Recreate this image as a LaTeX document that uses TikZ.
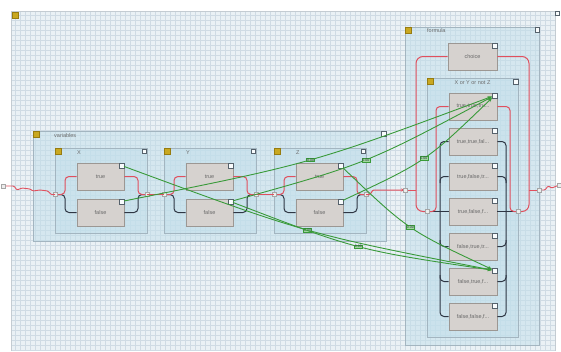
\documentclass[tikz,border=0pt]{standalone}
\usepackage{fontspec}
\setmainfont{Liberation Sans}
\usetikzlibrary{arrows.meta}
\definecolor{gridbg}{HTML}{EAF1F5}
\definecolor{gridln}{HTML}{CFDBE4}
\definecolor{gridedge}{HTML}{C4CCD2}
\definecolor{boxfill}{HTML}{C2DFEB}
\definecolor{boxline}{HTML}{A3B5C0}
\definecolor{nodefill}{HTML}{D6D2CF}
\definecolor{nodeline}{HTML}{9C9793}
\definecolor{txtgray}{HTML}{6A6A6A}
\definecolor{redc}{HTML}{E0505E}
\definecolor{darkc}{HTML}{2E3644}
\definecolor{greenc}{HTML}{399A39}
\definecolor{greenlab}{HTML}{9FD89F}
\definecolor{yel}{HTML}{C9A820}
\definecolor{yelline}{HTML}{977C10}
\definecolor{sqline}{HTML}{55616B}
\begin{document}
\begin{tikzpicture}[x=1pt,y=-1pt,
  cont/.style={draw=boxline,fill=boxfill,fill opacity=0.5,draw opacity=1,line width=0.6pt,inner sep=0,rectangle},
  vnode/.style={draw=nodeline,fill=nodefill,line width=0.7pt,minimum width=47pt,minimum height=27pt,inner sep=0,font=\fontsize{5.5}{6.5}\selectfont,text=txtgray},
  fnode/.style={vnode,minimum width=48pt},
  ysq/.style={draw=yelline,fill=yel,minimum size=6pt,inner sep=0,line width=0.4pt},
  gsq/.style={draw=sqline,fill=white!90!boxfill,minimum size=4.5pt,inner sep=0,line width=0.5pt},
  psq/.style={draw=gray!70,fill=gray!15,minimum width=4pt,minimum height=4pt,inner sep=0,line width=0.3pt},
  clab/.style={font=\fontsize{5.5}{6.5}\selectfont,text=txtgray,inner sep=0},
  redw/.style={draw=redc,line width=1pt,rounded corners=4pt},
  darkw/.style={draw=darkc,line width=1pt,rounded corners=4pt},
  grn/.style={draw=greenc,line width=0.9pt,-{Stealth[length=4.5pt,width=3.5pt]}},
  glab/.style={fill=greenlab,draw=greenc,line width=0.3pt,font=\fontsize{3.5}{4}\selectfont,text=darkc,inner sep=0.6pt}]
\useasboundingbox (0,0) rectangle (561,351);
\fill[white] (0,0) rectangle (561,351);
\fill[gridbg] (11,11) rectangle (555,351);
\foreach \i in {15,20,...,555} \draw[gridln,line width=0.3pt] (\i,11) -- (\i,351);
\foreach \j in {15,20,...,350} \draw[gridln,line width=0.3pt] (11,\j) -- (555,\j);
\draw[gridedge,line width=0.6pt] (11,351) -- (11,11) -- (555,11) -- (555,351);
\node[ysq] (canvy) at (15,15) {};
\node[gsq] (canvg) at (557,13) {};

% variables container
\node[cont,minimum width=353pt,minimum height=110pt] (vars) at (209.5,186) {};
\node[ysq,anchor=north west] (varsy) at (vars.north west) {};
\node[clab,anchor=west] (varsl) at (54,136) {variables};
\node[gsq] (varsg) at (383.5,133.5) {};

\foreach \b/\x/\lab in {x/55/X,y/164/Y,z/274/Z}{
  \node[cont,minimum width=92pt,minimum height=85pt] (\b box) at (\x+46,190.5) {};
  \node[ysq,anchor=north west] (\b y) at (\b box.north west) {};
  \node[clab,anchor=west] (\b lab) at (\x+22,153) {\lab};
  \node[gsq] (\b g) at (\x+89,151) {};
  \node[vnode] (\b t) at (\x+45.5,176.5) {true};
  \node[vnode] (\b f) at (\x+45.5,212.5) {false};
  \node[gsq] (\b tg) at (\x+66.5,165.5) {};
  \node[gsq] (\b fg) at (\x+66.5,201.5) {};
  \coordinate (\b in) at (\x,194.5);
  \coordinate (\b out) at (\x+92,194.5);
  \coordinate (\b l) at (\x+10,194.5);
  \coordinate (\b r) at (\x+83,194.5);
  \draw[darkw] (\b in) -- (\b l) |- (\b f.west);
  \draw[redw] (\b in) -- (\b l) |- (\b t.west);
  \draw[darkw] (\b f.east) -| (\b r) -- (\b out);
  \draw[redw] (\b t.east) -| (\b r) -- (\b out);
  \node[psq] (\b pin) at (\b in) {};
  \node[psq] (\b pout) at (\b out) {};
}

% formula container
\node[cont,minimum width=134pt,minimum height=318pt] (form) at (472,186) {};
\node[ysq,anchor=north west] (formy) at (form.north west) {};
\node[clab,anchor=west] (forml) at (427,31) {formula};
\node[gsq] (formg) at (537,29.5) {};
\node[fnode,minimum width=49pt] (choice) at (472.5,56.5) {choice};
\node[gsq] (choiceg) at (494.5,45.5) {};

\node[cont,minimum width=91pt,minimum height=259pt] (inner) at (472.5,207.5) {};
\node[ysq,anchor=north west] (innery) at (inner.north west) {};
\node[clab] (innerl) at (472.5,83) {X or Y or not Z};
\node[gsq] (innerg) at (515.5,81.5) {};

\foreach \k/\lab in {0/{true,true,tru...},1/{true,true,fal...},2/{true,false,tr...},3/{true,false,f...},4/{false,true,tr...},5/{false,true,f...},6/{false,false,f...}}{
  \node[fnode] (n\k) at (473,106.5+35*\k) {\lab};
  \node[gsq] (n\k g) at (494.5,95.5+35*\k) {};
}

\coordinate (fin) at (427,211.5);
\coordinate (fout) at (518,211.5);
\coordinate (fentry) at (405,190);
\coordinate (fexit) at (539,190);

% red outer loop in formula
\draw[redw,rounded corners=7pt] (fin) -- (416,211.5) -- (416,56.5) -- (choice.west);
\draw[redw,rounded corners=7pt] (choice.east) -- (529,56.5) -- (529,211.5) -- (fout);
\draw[redw] (fentry) -- (416,190);
\draw[redw] (529,190) -- (fexit);

% inner connectors
\draw[darkw] (n1.west) -- (440,141.5) -- (440,316.5) -- (n6.west);
\draw[darkw] (440,183) -- (440,176.5) -- (n2.west);
\draw[darkw] (440,240) -- (440,246.5) -- (n4.west);
\draw[darkw] (440,275) -- (440,281.5) -- (n5.west);
\draw[darkw] (fin) -- (n3.west);
\draw[darkw] (n1.east) -- (506,141.5) -- (506,316.5) -- (n6.east);
\draw[darkw] (506,183) -- (506,176.5) -- (n2.east);
\draw[darkw] (506,240) -- (506,246.5) -- (n4.east);
\draw[darkw] (506,275) -- (506,281.5) -- (n5.east);
\draw[darkw] (n3.east) -- (fout);
\draw[redw] (fin) -- (436,211.5) -- (436,106.5) -- (n0.west);
\draw[redw] (n0.east) -- (510,106.5) -- (510,211.5) -- (fout);
\node[psq] (finp) at (fin) {};
\node[psq] (foutp) at (fout) {};

% chain of red lines
\coordinate (lstart) at (3,186);
\coordinate (rend) at (559,185);
\draw[redw,rounded corners=1pt,line width=0.9pt] (lstart) -- (14,186) -- (17,190) -- (22,188) -- (30,189) -- (33,191) -- (40,190) -- (48,191) -- (51,194.5) -- (xin);
\draw[redw] (xout) -- (yin);
\draw[redw] (yout) -- (zin);
\draw[redw,rounded corners=1pt,-{Stealth[length=4pt,width=3pt]}] (zout) -- (370,194.5) -- (373,190) -- (fentry);
\draw[redw,rounded corners=1pt,line width=0.9pt] (fexit) -- (545,190) -- (548,186) -- (552,188) -- (rend);
\node[psq] (lsp) at (lstart) {};
\node[psq] (rsp) at (rend) {};
\node[psq] (fentp) at (fentry) {};
\node[psq] (fexp) at (fexit) {};

% green links
\draw[grn] (xfg) .. controls (311.5,163.5) .. (n0g) node[glab,pos=0.5] (l1) {0.00};
\draw[grn] (yfg) .. controls (367,163.5) .. (n0g) node[glab,pos=0.5] (l2) {0.00};
\draw[grn] (zfg) .. controls (426,161.5) .. (n0g) node[glab,pos=0.5] (l3) {0.00};
\draw[grn] (xtg) .. controls (307.5,234) .. (n5g) node[glab,pos=0.5] (l4) {0.00};
\draw[grn] (yfg) .. controls (357,250) .. (n5g) node[glab,pos=0.5] (l5) {0.00};
\draw[grn] (ztg) .. controls (408,230) .. (n5g) node[glab,pos=0.5] (l6) {0.00};
\end{tikzpicture}
\end{document}
